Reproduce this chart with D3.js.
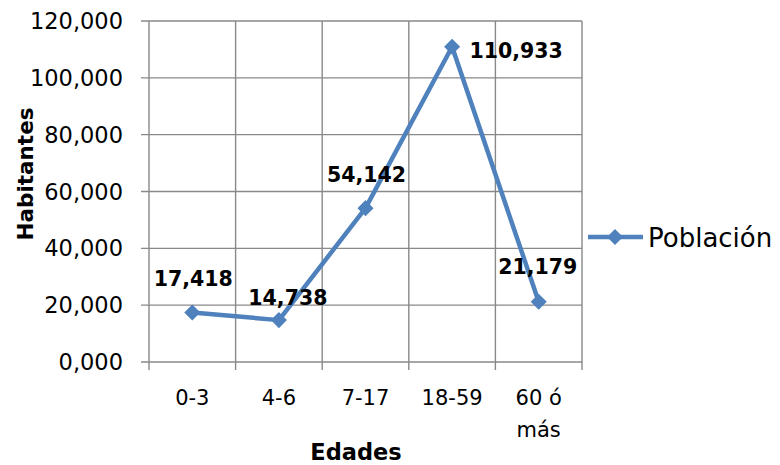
<!DOCTYPE html>
<html><head><meta charset="utf-8">
<script src="https://cdn.jsdelivr.net/npm/d3@7"></script>
<style>
body{margin:0;background:#fff;}
text{font-family:"DejaVu Sans","Noto Sans",sans-serif;}
</style></head>
<body><svg id="chart" width="780" height="465"></svg>
<script>
const categories = ["0-3", "4-6", "7-17", "18-59", "60 ó más"];
const poblacion = [17418, 14738, 54142, 110933, 21179];
const yTicks = [0, 20000, 40000, 60000, 80000, 100000, 120000];
const seriesName = "Población";
// label placement (dx, baseline dy) relative to each point
const labelOffsets = [[1,-27],[9,-15],[1,-26],[64,11],[-1,-28]];

const svg = d3.select("#chart");
const m = {left:149, right:582, top:21, bottom:362};
const color = "#4F81BD";
const grid = "#898989";

const x = d3.scaleBand().domain(categories).range([m.left, m.right]);
const y = d3.scaleLinear().domain([0,120000]).range([m.bottom, m.top]);
const fmt = v => v === 0 ? "0,000" : d3.format(",")(v);

// horizontal grid with left tick stubs
svg.append("g").selectAll("line").data(yTicks).join("line")
  .attr("x1", m.left-8).attr("x2", m.right)
  .attr("y1", d=>y(d)).attr("y2", d=>y(d))
  .attr("stroke", grid).attr("stroke-width", 1.4);

// vertical grid at category boundaries, with bottom tick stubs
const bounds = categories.map(c=>x(c)).concat([m.right]);
svg.append("g").selectAll("line").data(bounds).join("line")
  .attr("x1", d=>d).attr("x2", d=>d)
  .attr("y1", m.top).attr("y2", m.bottom+8)
  .attr("stroke", grid).attr("stroke-width", 1.4);

// y tick labels
svg.append("g").selectAll("text").data(yTicks).join("text")
  .attr("x", 123).attr("y", d=>y(d)+8)
  .attr("text-anchor","end").attr("font-size",22.5).attr("fill","#000")
  .text(fmt);

// x tick labels
const xl = svg.append("g").selectAll("text").data(categories).join("text")
  .attr("x", d=>x(d)+x.bandwidth()/2).attr("y", 405)
  .attr("text-anchor","middle").attr("font-size",21).attr("fill","#000");
xl.each(function(d){
  const parts = d === "60 ó más" ? ["60 ó","más"] : [d];
  d3.select(this).selectAll("tspan").data(parts).join("tspan")
    .attr("x", x(d)+x.bandwidth()/2).attr("dy",(p,i)=>i?32:0).text(p=>p);
});

// axis titles
svg.append("text").attr("x", 356).attr("y", 460).attr("text-anchor","middle")
  .attr("font-size",22.5).attr("font-weight","bold").text("Edades");
svg.append("text").attr("transform","translate(33,174) rotate(-90)")
  .attr("text-anchor","middle").attr("font-size",21.5).attr("font-weight","bold").text("Habitantes");

// series line
const cx = d => x(d)+x.bandwidth()/2;
const line = d3.line().x((v,i)=>cx(categories[i])).y(v=>y(v));
svg.append("path").datum(poblacion).attr("d", line)
  .attr("fill","none").attr("stroke",color).attr("stroke-width",4.5).attr("stroke-linejoin","round");

const diamond = d3.symbol().type(d3.symbolDiamond2).size(165);
svg.append("g").selectAll("path").data(poblacion).join("path")
  .attr("transform",(v,i)=>`translate(${cx(categories[i])},${y(v)})`)
  .attr("d", diamond).attr("fill",color);

// data labels
svg.append("g").selectAll("text").data(poblacion).join("text")
  .attr("x",(v,i)=>cx(categories[i])+labelOffsets[i][0])
  .attr("y",(v,i)=>y(v)+labelOffsets[i][1])
  .attr("text-anchor","middle")
  .attr("font-size",20.5).attr("font-weight","bold").attr("fill","#000")
  .text(d3.format(","));

// legend
const ly = 237;
svg.append("line").attr("x1",588).attr("x2",643).attr("y1",ly).attr("y2",ly)
  .attr("stroke",color).attr("stroke-width",4.5);
svg.append("path").attr("transform",`translate(615,${ly})`).attr("d",diamond).attr("fill",color);
svg.append("text").attr("x",648).attr("y",ly+10)
  .attr("font-size",26).attr("fill","#000").text(seriesName);
</script></body></html>
